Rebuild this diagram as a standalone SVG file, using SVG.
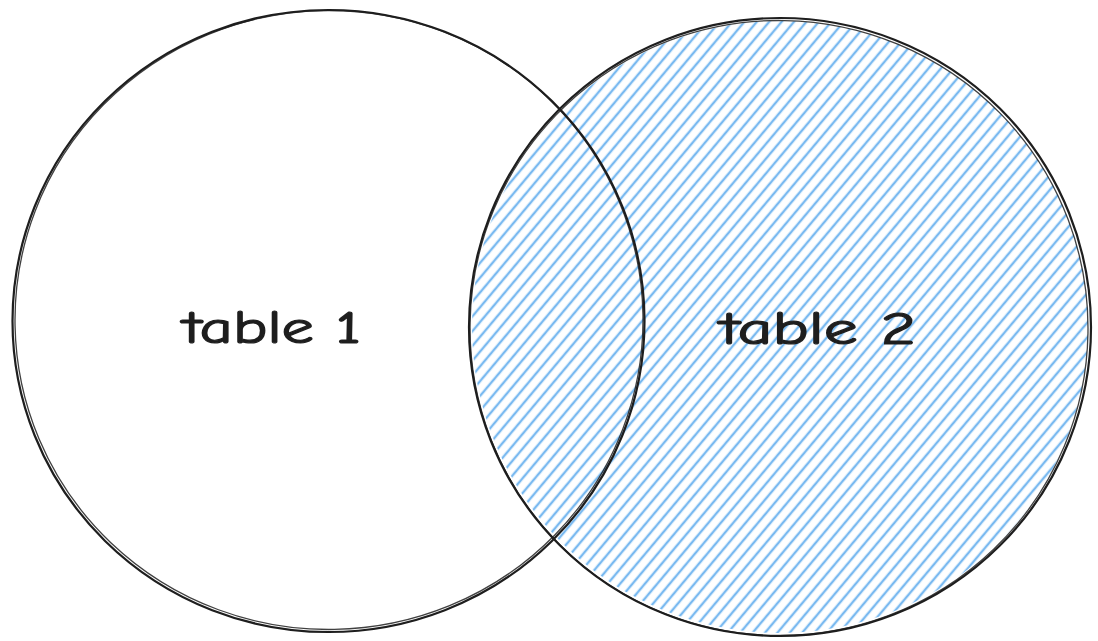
<svg xmlns="http://www.w3.org/2000/svg" width="1098" height="641" viewBox="0 0 1098 641">
<style>
.outline{fill:none;stroke:#1e1e1e;stroke-width:2.2;stroke-linecap:round}
.outline2{fill:none;stroke:#1e1e1e;stroke-width:1.3;opacity:0.85}
.label{font-family:"Comic Neue","Liberation Sans",sans-serif;font-size:46px;fill:#1e1e1e;stroke:#1e1e1e;stroke-width:1.2}
</style>
<defs>
<pattern id="hatch" patternUnits="userSpaceOnUse" width="20" height="9.5" patternTransform="rotate(-50)">
<line x1="0" y1="4.75" x2="20" y2="4.75" stroke="#6ab2ef" stroke-width="2.4" opacity="0.9"/>
</pattern>
</defs>
<rect width="1098" height="641" fill="#ffffff"/>
<g id="table2">
<ellipse cx="780" cy="327" rx="308" ry="306" fill="url(#hatch)"/>
<ellipse class="outline" cx="780" cy="327" rx="311" ry="309"/>
<ellipse class="outline2" cx="779" cy="328" rx="309" ry="307.5" transform="rotate(1 779 328)"/>
<text class="label" x="720" y="344" textLength="196" lengthAdjust="spacingAndGlyphs">table 2</text>
</g>
<g id="table1">
<ellipse class="outline" cx="328.5" cy="321" rx="316" ry="311"/>
<ellipse class="outline2" cx="329" cy="320" rx="314" ry="309.5" transform="rotate(-1 329 320)"/>
<text class="label" x="183" y="343" textLength="178" lengthAdjust="spacingAndGlyphs">table 1</text>
</g>
<g id="connectors"></g>
</svg>
